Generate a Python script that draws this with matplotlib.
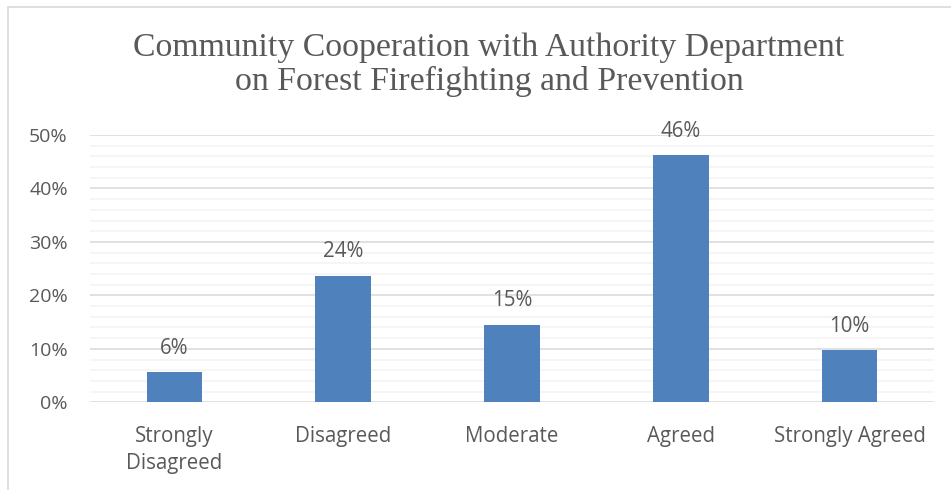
import matplotlib
matplotlib.use('Agg')
import matplotlib.pyplot as plt
from matplotlib.patches import Rectangle
from matplotlib.ticker import MultipleLocator, PercentFormatter

categories = ['Strongly\nDisagreed', 'Disagreed', 'Moderate', 'Agreed', 'Strongly Agreed']
shares = [0.056, 0.236, 0.145, 0.462, 0.097]
bar_labels = ['6%', '24%', '15%', '46%', '10%']
title = 'Community Cooperation with Authority Department\non Forest Firefighting and Prevention'

bar_color = '#4F81BD'
text_color = '#595959'

plt.rcParams['font.family'] = ['Open Sans', 'DejaVu Sans']

fig = plt.figure(figsize=(9.51, 4.90), dpi=100)
ax = fig.add_axes([90/951, 1-402.3/490, (934-90)/951, (402.3-135)/490])

# chart frame (partly cut off at right/bottom)
fig.patches.append(Rectangle((8/951, -0.1), 1.2, 1-7.5/490+0.1, transform=fig.transFigure,
                             fill=False, edgecolor='#D9D9D9', lw=1.2))

x = range(len(categories))
ax.bar(x, shares, width=0.33, color=bar_color, zorder=3)
for xi, val, lab in zip(x, shares, bar_labels):
    ax.annotate(lab, (xi, val), xytext=(0, 13.5), textcoords='offset points',
                ha='center', va='baseline', fontsize=14.8, color=text_color)

ax.set_xlim(-0.5, 4.5)
ax.set_ylim(0, 0.5)
ax.yaxis.set_major_locator(MultipleLocator(0.1))
ax.yaxis.set_minor_locator(MultipleLocator(0.02))
ax.yaxis.set_major_formatter(PercentFormatter(1.0, decimals=0))
ax.grid(axis='y', which='major', color='#D9D9D9', lw=1.1, zorder=0)
ax.grid(axis='y', which='minor', color='#F2F2F2', lw=1.1, zorder=0)
ax.set_axisbelow(True)
for s in ax.spines.values():
    s.set_visible(False)

ax.set_xticks(list(x))
ax.set_xticklabels(categories, fontsize=14.8, color=text_color, linespacing=1.35)
ax.tick_params(axis='x', length=0, pad=17)
ax.tick_params(axis='y', which='both', length=0, pad=16, labelsize=14, labelcolor=text_color)

fig.text(489/951, 1-90/490, title, ha='center', va='baseline', fontsize=24.3,
         family='Liberation Serif', color=text_color, linespacing=1.12)

fig.savefig('out.png', dpi=100)
